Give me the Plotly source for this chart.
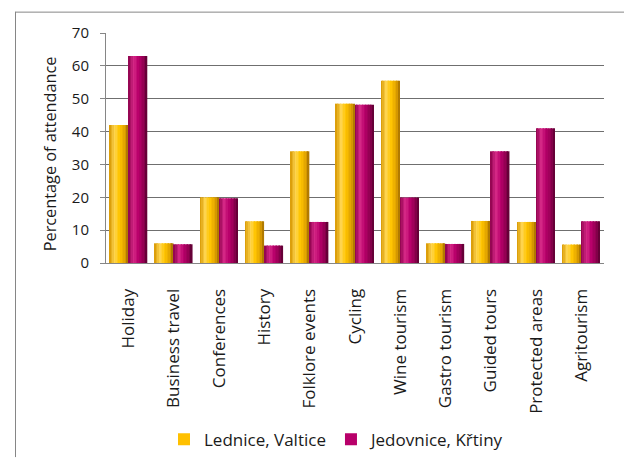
import plotly.graph_objects as go

categories = ["Holiday", "Business travel", "Conferences", "History", "Folklore events",
              "Cycling", "Wine tourism", "Gastro tourism", "Guided tours",
              "Protected areas", "Agritourism"]
lednice_valtice = [42, 6, 20, 12.7, 34, 48.5, 55.5, 6, 12.8, 12.5, 5.6]
jedovnice_krtiny = [63, 5.7, 19.7, 5.3, 12.5, 48.2, 19.9, 5.8, 34, 41, 12.7]
series_names = ["Lednice, Valtice", "Jedovnice, Křtiny"]
y_ticks = [0, 10, 20, 30, 40, 50, 60, 70]

FONT = "'Open Sans', Lato, sans-serif"

# cylinder-like horizontal shading (position across bar, rgb)
yellow_grad = [(0.0, (214, 150, 0)), (0.3, (255, 214, 80)), (0.55, (255, 196, 0)),
               (0.85, (222, 160, 0)), (1.0, (160, 108, 0))]
purple_grad = [(0.0, (140, 0, 75)), (0.3, (214, 40, 135)), (0.55, (184, 0, 106)),
               (0.85, (140, 0, 78)), (1.0, (88, 0, 46))]


def interp(grad, t):
    for (p0, c0), (p1, c1) in zip(grad[:-1], grad[1:]):
        if p0 <= t <= p1:
            f = (t - p0) / (p1 - p0) if p1 > p0 else 0
            c = [round(a + (b - a) * f) for a, b in zip(c0, c1)]
            return "rgb(%d,%d,%d)" % tuple(c)
    return "rgb(%d,%d,%d)" % grad[-1][1]


fig = go.Figure()
BAR_W = 0.41
N_STRIPS = 12
for name, vals, grad, off, legend_color in [
        (series_names[0], lednice_valtice, yellow_grad, -0.42, "#FFC000"),
        (series_names[1], jedovnice_krtiny, purple_grad, 0.0, "#B8006A")]:
    sw = BAR_W / N_STRIPS
    for i in range(N_STRIPS):
        t = (i + 0.5) / N_STRIPS
        fig.add_trace(go.Bar(
            x=categories, y=vals, offset=off + i * sw, width=sw * 1.05,
            marker=dict(color=interp(grad, t), line=dict(width=0)),
            showlegend=False, hoverinfo="skip"))
    # legend entry
    fig.add_trace(go.Bar(
        x=[categories[0]], y=[None], name=name,
        marker=dict(color=legend_color, line=dict(width=0)), showlegend=True))

PW, PH, L, T = 498, 237, 106, 33


def px_x(p):
    return (p - L) / PW


def px_y(p):
    return (T + PH - p) / PH


fig.update_layout(
    width=624, height=470,
    margin=dict(l=L, r=624 - L - PW, t=T, b=470 - T - PH),
    barmode="overlay",
    paper_bgcolor="white", plot_bgcolor="white",
    font=dict(family=FONT, size=14, color="#1a1a1a"),
    showlegend=True,
    legend=dict(orientation="h", x=px_x(337), xanchor="center", y=px_y(452),
                yanchor="middle", font=dict(size=17, family=FONT), itemwidth=30,
                bgcolor="rgba(0,0,0,0)"),
    xaxis=dict(type="category", tickangle=-90, showgrid=False, showline=True,
               linecolor="#868686", linewidth=1, ticks="", ticklabelstandoff=18,
               tickfont=dict(size=17, family=FONT), range=[-0.5, 10.5]),
    yaxis=dict(range=[0, 70], tickvals=y_ticks, showgrid=True, gridcolor="#6f6f6f",
               gridwidth=1, showline=True, linecolor="#868686", linewidth=1,
               ticks="outside", ticklen=5, tickcolor="#868686",
               tickfont=dict(size=15, family=FONT), zeroline=False,
               ticklabelstandoff=8),
    annotations=[dict(text="Percentage of attendance", textangle=-90, xref="paper",
                      yref="paper", x=px_x(37), y=px_y(158), showarrow=False,
                      font=dict(size=16.3, family=FONT))],
    shapes=[
        dict(type="line", xref="paper", yref="paper",
             x0=px_x(15.5), x1=px_x(15.5), y0=px_y(11), y1=px_y(470),
             line=dict(color="#868686", width=1)),
        dict(type="line", xref="paper", yref="paper",
             x0=px_x(15.5), x1=px_x(624), y0=px_y(11.5), y1=px_y(11.5),
             line=dict(color="#868686", width=1)),
    ],
)

fig.write_html("out.html")
